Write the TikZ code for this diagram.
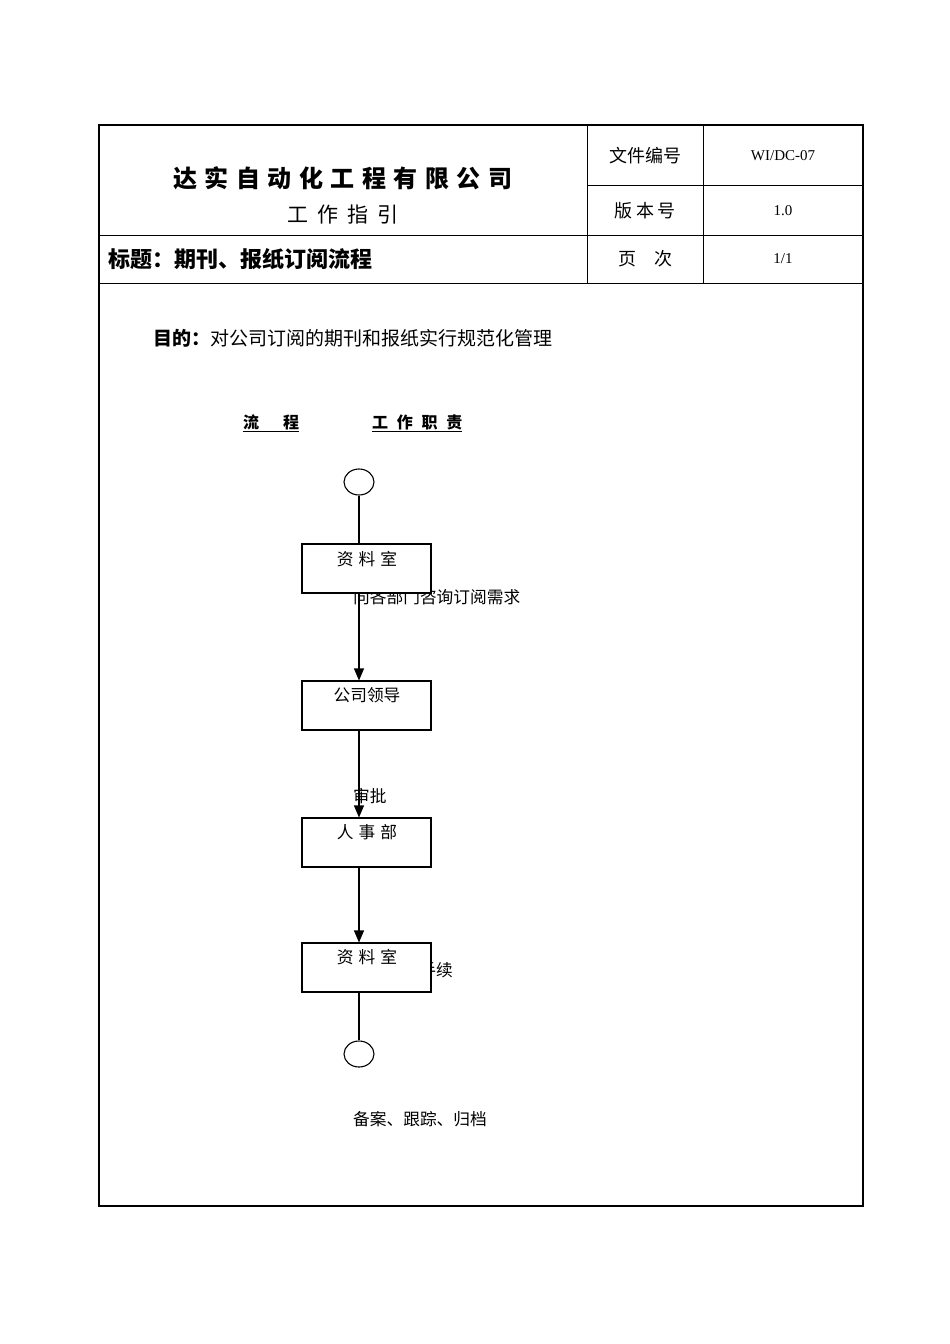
\documentclass[tikz,border=0pt]{standalone}
\usepackage{fontspec}
\usetikzlibrary{arrows.meta,shapes.geometric}
\newfontfamily\cjk{Noto Sans CJK SC}
\newfontfamily\lat{Liberation Serif}
\tikzset{
  frame/.style={line width=2pt},
  rule/.style={line width=0.9pt},
  flowbox/.style={draw, fill=white, line width=1.1pt, minimum width=129pt, minimum height=49pt, inner sep=0pt},
  endpt/.style={draw, fill=white, ellipse, line width=1.1pt, minimum width=30pt, minimum height=26pt, inner sep=0pt},
  conn/.style={line width=1.1pt},
  arr/.style={line width=1.1pt, -{Triangle[length=12pt,width=10pt]}},
  txt/.style={inner sep=0pt, font=\cjk\fontsize{16.7}{16.7}\selectfont},
  hdr/.style={inner sep=0pt, font=\cjk\fontsize{18}{18}\selectfont},
  num/.style={inner sep=0pt, font=\lat\fontsize{15}{15}\selectfont},
  colhead/.style={inner sep=0pt, anchor=west, font=\cjk\fontsize{16}{16}\selectfont\bfseries},
}
\begin{document}
\begin{tikzpicture}[x=1pt,y=-1pt]
\useasboundingbox (0,0) rectangle (950,1344);
\fill[white] (0,0) rectangle (950,1344);
% header frame
\coordinate (tl) at (99,125);
\coordinate (br) at (863,1206);
\draw[frame] (tl) rectangle (br);
\draw[rule] (587,185) -- (863,185);
\draw[rule] (99,235) -- (863,235);
\draw[rule] (99,283) -- (863,283);
\draw[rule] (587,125) -- (587,283);
\draw[rule] (703,125) -- (703,283);
% header texts
\node[inner sep=0pt, font=\cjk\fontsize{24}{24}\selectfont\bfseries] (company) at (343,178)
  {达\hspace{7.5pt}实\hspace{7.5pt}自\hspace{7.5pt}动\hspace{7.5pt}化\hspace{7.5pt}工\hspace{7.5pt}程\hspace{7.5pt}有\hspace{7.5pt}限\hspace{7.5pt}公\hspace{7.5pt}司};
\node[inner sep=0pt, font=\cjk\fontsize{21}{21}\selectfont] (guide) at (343,215)
  {工\hspace{9pt}作\hspace{9pt}指\hspace{9pt}引};
\node[hdr] (docno) at (645,156) {文件编号};
\node[num] (docnov) at (783,156) {WI/DC-07};
\node[hdr] (ver) at (645,211) {版\hspace{4pt}本\hspace{4pt}号};
\node[num] (verv) at (783,211) {1.0};
\node[inner sep=0pt, anchor=west, font=\cjk\fontsize{22}{22}\selectfont\bfseries] (title) at (108,259) {标题：期刊、报纸订阅流程};
\node[hdr] (page) at (645,259) {页\hspace{18pt}次};
\node[num] (pagev) at (783,259) {1/1};
% purpose
\node[inner sep=0pt, anchor=west, font=\cjk\fontsize{19}{19}\selectfont] (purpose) at (153,338) {{\bfseries 目的：}对公司订阅的期刊和报纸实行规范化管理};
% column heads
\node[colhead] (colA) at (243,423) {\underline{流\hspace{24pt}程}};
\node[colhead] (colB) at (372,423) {\underline{工\hspace{8.7pt}作\hspace{8.7pt}职\hspace{8.7pt}责}};
% duty labels (drawn before boxes so boxes cover them)
\node[txt, anchor=west] (d1) at (353,597) {向各部门咨询订阅需求};
\node[txt, anchor=east] (d4) at (453,970) {手续};
% flow
\node[endpt] (c1) at (359,482) {};
\node[flowbox] (b1) at (366.5,568.5) {};
\node[flowbox] (b2) at (366.5,705.5) {};
\node[flowbox] (b3) at (366.5,842.5) {};
\node[flowbox] (b4) at (366.5,967.5) {};
\node[endpt] (c2) at (359,1054) {};
\node[txt] (t1) at (367,559) {资\hspace{5pt}料\hspace{5pt}室};
\node[txt] (t2) at (367,695) {公司领导};
\node[txt] (t3) at (367,832) {人\hspace{5pt}事\hspace{5pt}部};
\node[txt] (t4) at (367,957) {资\hspace{5pt}料\hspace{5pt}室};
\draw[conn] (c1.south) -- (c1.south |- b1.north);
\draw[arr] (c1.south |- b1.south) -- (c1.south |- b2.north);
\draw[arr] (c1.south |- b2.south) -- (c1.south |- b3.north);
\draw[arr] (c1.south |- b3.south) -- (c1.south |- b4.north);
\draw[conn] (c1.south |- b4.south) -- (c2.north);
\node[txt, anchor=west] (d2) at (353,796) {审批};
\node[txt, anchor=west] (d5) at (353,1119) {备案、跟踪、归档};
\end{tikzpicture}
\end{document}
